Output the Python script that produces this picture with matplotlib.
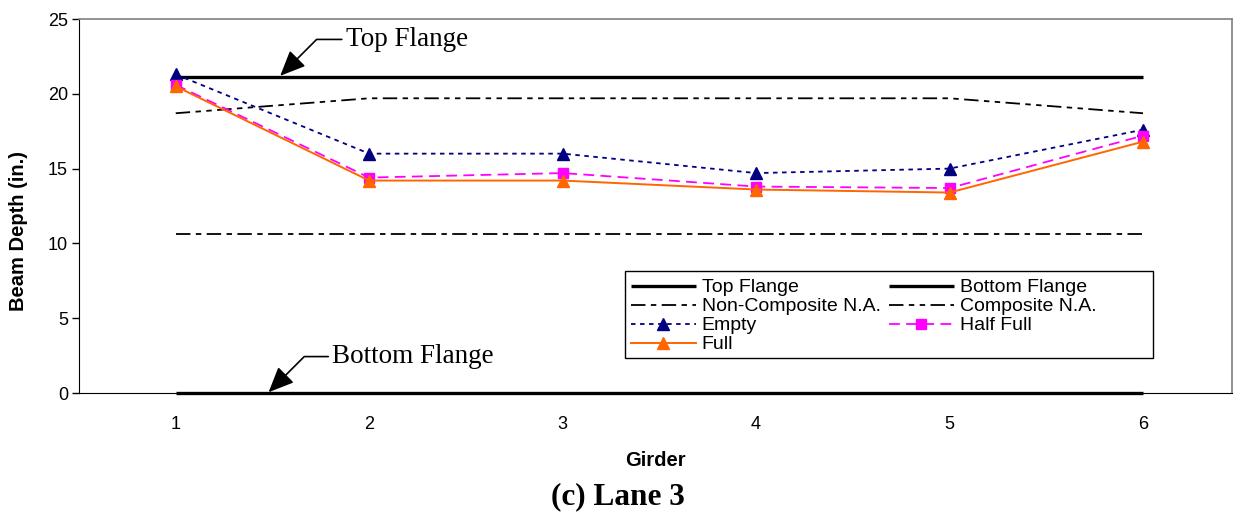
import matplotlib
matplotlib.use("Agg")
import matplotlib.pyplot as plt
from matplotlib.patches import Rectangle

girders = [1, 2, 3, 4, 5, 6]
top_flange = [21.1, 21.1, 21.1, 21.1, 21.1, 21.1]
bottom_flange = [0, 0, 0, 0, 0, 0]
noncomp_na = [10.6, 10.6, 10.6, 10.6, 10.6, 10.6]
comp_na = [18.7, 19.7, 19.7, 19.7, 19.7, 18.7]
empty = [21.3, 16.0, 16.0, 14.7, 15.0, 17.6]
half_full = [20.6, 14.4, 14.7, 13.8, 13.7, 17.2]
full = [20.5, 14.2, 14.2, 13.6, 13.4, 16.8]
yticks = [0, 5, 10, 15, 20, 25]

plt.rcParams['font.family'] = ['Liberation Sans', 'DejaVu Sans']
serif = ['Liberation Serif', 'DejaVu Serif']
W, H = 1235, 519
fig = plt.figure(figsize=(W/100, H/100), dpi=100)
ax = fig.add_axes([79/W, 1-393/H, (1232-79)/W, (393-19)/H])

navy = '#000080'
mag = '#FF00FF'
org = '#FF6600'

h_top, = ax.plot(girders, top_flange, color='black', lw=2.4, solid_capstyle='butt', label='Top Flange')
h_bot, = ax.plot(girders, bottom_flange, color='black', lw=2.4, solid_capstyle='butt',
                 label='Bottom Flange', clip_on=False, zorder=3)
h_nc, = ax.plot(girders, noncomp_na, color='black', lw=1.3, dashes=[8, 3, 3, 3], label='Non-Composite N.A.')
h_c, = ax.plot(girders, comp_na, color='black', lw=1.3, dashes=[8, 3, 3, 3, 3, 3], label='Composite N.A.')
h_e, = ax.plot(girders, empty, color=navy, lw=1.3, dashes=[2.5, 2.5], marker='^', ms=8,
               mfc=navy, mec=navy, label='Empty')
h_h, = ax.plot(girders, half_full, color=mag, lw=1.3, dashes=[6, 3.5], marker='s', ms=7,
               mfc=mag, mec=mag, label='Half Full')
h_f, = ax.plot(girders, full, color=org, lw=1.4, marker='^', ms=8, mfc=org, mec=org, label='Full')

ax.set_xlim(0.5, 6.46)
ax.set_ylim(0, 25)
ax.set_xticks(girders)
ax.set_yticks(yticks)
ax.tick_params(axis='x', length=0, pad=16.5, labelsize=13)
ax.tick_params(axis='y', length=5, width=1, pad=3, labelsize=13, direction='out')
for s in ['top', 'right']:
    ax.spines[s].set_color('#808080')
    ax.spines[s].set_linewidth(1.2)
ax.spines['left'].set_color('black')
ax.spines['bottom'].set_color('black')

ax.set_xlabel('Girder', fontweight='bold', fontsize=14.5)
ax.xaxis.set_label_coords(0.5, (393-460)/374)
ax.xaxis.label.set_va('center')
ax.set_ylabel('Beam Depth (in.)', fontweight='bold', fontsize=14.5)
ax.yaxis.set_label_coords((19-79)/1153, (393-231)/374)
ax.yaxis.label.set_va('center')

# legend frame drawn separately (Excel-style wide box)
ax.add_patch(Rectangle((625/W, 1-358/H), (1153-625)/W, (358-271)/H,
                       transform=fig.transFigure, fill=True, facecolor='white',
                       edgecolor='black', lw=1.0, zorder=4, clip_on=False))
leg = ax.legend(handles=[h_top, h_nc, h_e, h_f, h_bot, h_c, h_h], ncol=2,
                loc='upper left', bbox_to_anchor=((625-79)/1153, (393-273)/374),
                frameon=False, fontsize=14,
                handlelength=3.35, handletextpad=0.3, columnspacing=0.4,
                labelspacing=0.07, borderpad=0.3, borderaxespad=0)
leg.set_zorder(5)

ax.annotate('Top Flange', xy=(1.54, 21.2), xytext=(1.88, 23.2),
            ha='left', va='baseline', family=serif, fontsize=19.5,
            arrowprops=dict(arrowstyle='-|>,head_length=0.8,head_width=0.35', color='black', lw=1.2,
                            connectionstyle='angle,angleA=180,angleB=45,rad=0',
                            shrinkA=1, shrinkB=0))
ax.annotate('Bottom Flange', xy=(1.48, 0.05), xytext=(1.81, 2.0),
            ha='left', va='baseline', family=serif, fontsize=19.5,
            arrowprops=dict(arrowstyle='-|>,head_length=0.8,head_width=0.35', color='black', lw=1.2,
                            connectionstyle='angle,angleA=180,angleB=45,rad=0',
                            shrinkA=1, shrinkB=0))

fig.text(0.5, 1-497/H, '(c) Lane 3', ha='center', va='center', fontweight='bold', fontsize=22.5,
         family=serif)

fig.savefig('out.png', dpi=100)
